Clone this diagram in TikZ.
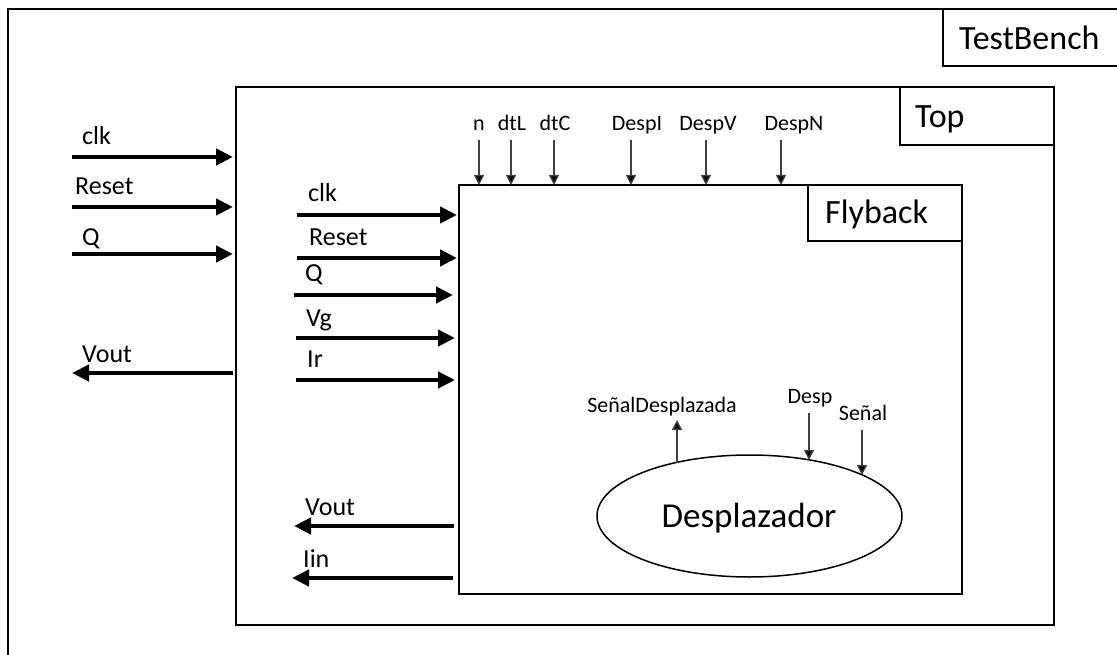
\documentclass[tikz,border=0pt]{standalone}
\usepackage{fontspec}
\setmainfont{Carlito}
\usetikzlibrary{arrows.meta,shapes.geometric}
\begin{document}
\begin{tikzpicture}[x=1pt,y=-1pt,
  box/.style={draw=black,line width=1.8pt,inner sep=0pt,outer sep=0pt},
  big/.style={font=\fontsize{34}{40}\selectfont,anchor=base west,inner sep=0pt},
  lab/.style={font=\fontsize{26}{30}\selectfont,anchor=base west,inner sep=0pt},
  slab/.style={font=\fontsize{22}{26}\selectfont,anchor=base,inner sep=0pt},
  fat/.style={line width=4.5pt,-{Triangle[length=17pt,width=16pt]}},
  thinarr/.style={line width=1.3pt,draw=black!75,-{Triangle[length=10pt,width=10pt,fill=black]}}
]
\useasboundingbox (0,0) rectangle (1117,655);

% boxes
\node[box,minimum width=1114pt,minimum height=653pt] (tb) at (565,335.5) {};
\node[box,minimum width=177pt,minimum height=57pt] (tblab) at (1031.5,37.5) {};
\node[big] (tbtxt) at (959,50) {TestBench};

\node[box,minimum width=818pt,minimum height=538pt] (top) at (645,356) {};
\node[box,minimum width=154pt,minimum height=58pt] (toplab) at (977,116) {};
\node[big] (toptxt) at (915,128) {Top};

\node[box,minimum width=503pt,minimum height=409pt] (fly) at (710.5,389.5) {};
\node[box,minimum width=154pt,minimum height=56pt] (flylab) at (885,213) {};
\node[big] (flytxt) at (825,224) {Flyback};

\node[draw=black,line width=1.5pt,ellipse,minimum width=305pt,minimum height=122pt,inner sep=0pt] (des) at (749.5,516) {};
\node[font=\fontsize{35}{40}\selectfont,anchor=base,inner sep=0pt] (destxt) at (749,527) {Desplazador};

% TestBench -> Top
\coordinate (a1) at (72,157);
\coordinate (a2) at (72,207);
\coordinate (a3) at (72,254);
\coordinate (a4) at (72,373);
\draw[fat,shorten >=3pt] (a1) -- (a1 -| top.west);
\draw[fat,shorten >=3pt] (a2) -- (a2 -| top.west);
\draw[fat,shorten >=3pt] (a3) -- (a3 -| top.west);
\draw[fat,shorten <=3pt] (a4 -| top.west) -- (a4);
\node[lab] (l1) at (82,145) {clk};
\node[lab] (l2) at (75,195) {Reset};
\node[lab] (l3) at (82,246) {Q};
\node[lab] (l4) at (82,362) {Vout};

% Top -> Flyback
\coordinate (b1) at (297,215);
\coordinate (b2) at (297,258);
\coordinate (b3) at (294,295);
\coordinate (b4) at (296,338);
\coordinate (b5) at (296,380);
\draw[fat,shorten >=2pt] (b1) -- (b1 -| fly.west);
\draw[fat,shorten >=2pt] (b2) -- (b2 -| fly.west);
\draw[fat,shorten >=6pt] (b3) -- (b3 -| fly.west);
\draw[fat,shorten >=4pt] (b4) -- (b4 -| fly.west);
\draw[fat,shorten >=4pt] (b5) -- (b5 -| fly.west);
\node[lab] (m1) at (308,202) {clk};
\node[lab] (m2) at (309,246) {Reset};
\node[lab] (m3) at (305,282) {Q};
\node[lab] (m4) at (306,326) {Vg};
\node[lab] (m5) at (307,367) {Ir};

% Flyback outputs
\coordinate (c1) at (294,526);
\coordinate (c2) at (292,578);
\draw[fat,shorten <=5pt] (c1 -| fly.west) -- (c1);
\draw[fat,shorten <=6pt] (c2 -| fly.west) -- (c2);
\node[lab] (o1) at (305,515) {Vout};
\node[lab] (o2) at (303,567) {Iin};

% parameters on top of Flyback
\node[slab] (pn) at (479,131) {n};
\node[slab] (pdtl) at (512,131) {dtL};
\node[slab] (pdtc) at (555,131) {dtC};
\node[slab] (pdi) at (637,131) {DespI};
\node[slab] (pdv) at (708,131) {DespV};
\node[slab] (pdn) at (794,131) {DespN};
\coordinate (t1) at (479,140);
\coordinate (t2) at (511,140);
\coordinate (t3) at (554,140);
\coordinate (t4) at (631,140);
\coordinate (t5) at (706,140);
\coordinate (t6) at (781,140);
\foreach \t in {t1,t2,t3,t4,t5,t6} \draw[thinarr] (\t) -- (\t |- fly.north);

% Desplazador ports
\node[slab] (sd) at (662,412) {SeñalDesplazada};
\node[slab] (dp) at (810,403) {Desp};
\node[slab] (sn) at (863,420) {Señal};
\coordinate (e1) at (677,463);
\coordinate (e2) at (809,460);
\coordinate (e3) at (862,475);
\coordinate (s1) at (677,420);
\coordinate (s2) at (809,413);
\coordinate (s3) at (862,430);
\draw[thinarr] (e1) -- (s1);
\draw[thinarr] (s2) -- (e2);
\draw[thinarr] (s3) -- (e3);
\end{tikzpicture}
\end{document}
